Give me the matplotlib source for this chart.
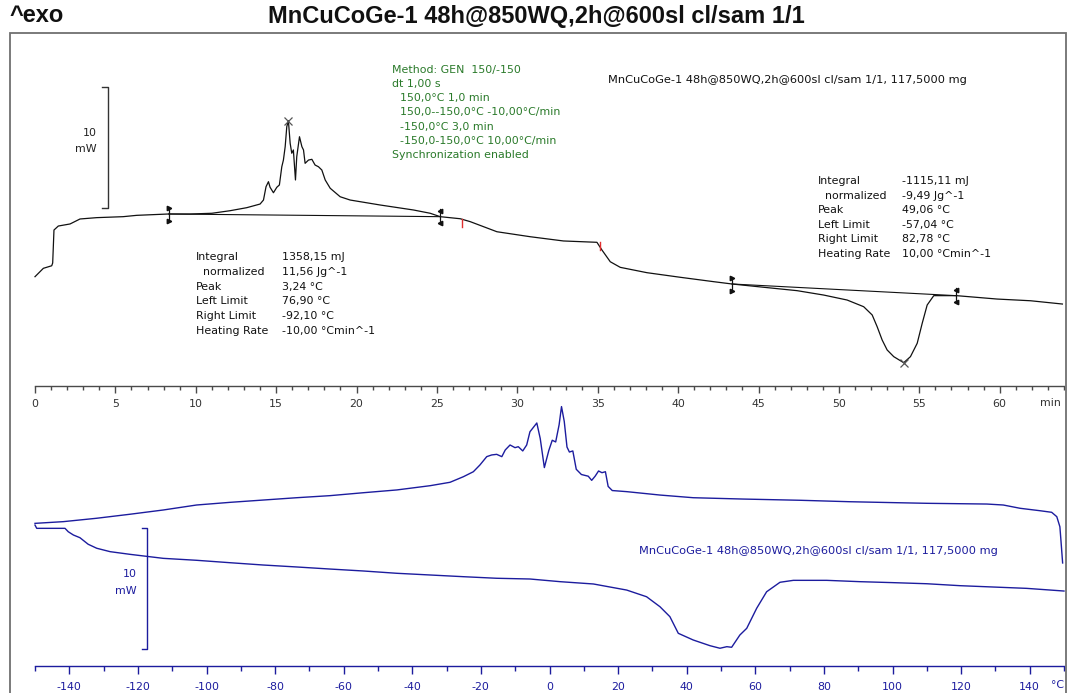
import matplotlib
matplotlib.use("Agg")
import matplotlib.pyplot as plt
from matplotlib.patches import Rectangle
from matplotlib.ticker import MultipleLocator, FixedLocator, FixedFormatter

plt.rcParams['axes.unicode_minus'] = False

# ---------------- data ----------------
title = "MnCuCoGe-1 48h@850WQ,2h@600sl cl/sam 1/1"
sample_label = "MnCuCoGe-1 48h@850WQ,2h@600sl cl/sam 1/1, 117,5000 mg"

# top panel: heat flow (mW, exo up) vs time (min)
top_t = [0.0, 0.52, 1.04, 1.10, 1.18, 1.45, 2.18, 2.80, 3.84, 5.48, 6.33, 8.29, 9.65,
         11.0, 12.13, 13.17, 14.0, 14.21, 14.37, 14.52, 14.62, 14.83, 15.04, 15.20,
         15.35, 15.45, 15.56, 15.66, 15.76, 15.87, 15.97, 16.07, 16.20, 16.28, 16.45,
         16.60, 16.70, 16.80, 17.01, 17.22, 17.42, 17.63, 17.84, 18.05, 18.36, 18.98,
         19.60, 21.47, 23.54, 24.58, 25.20, 26.45, 27.07, 28.73, 30.80, 32.87, 34.95,
         35.26, 35.78, 36.40, 38.06, 40.14, 42.21, 43.35, 45.32, 47.40, 49.05, 50.51,
         51.54, 52.07, 52.38, 52.69, 53.00, 53.41, 54.03, 54.45, 54.87, 55.18, 55.49,
         55.90, 57.31, 59.84, 61.92, 63.90]
top_hf = [-5.16, -4.47, -4.26, -4.03, -1.32, -0.99, -0.82, -0.41, -0.30, -0.22, -0.11, 0.0, 0.0,
          0.06, 0.27, 0.52, 0.82, 1.15, 2.25, 2.66, 2.20, 1.75, 2.20, 2.39,
          3.89, 4.44, 5.54, 7.19, 7.68, 5.82, 5.00, 5.27, 2.80, 4.72, 6.36,
          5.54, 5.27, 4.17, 4.44, 4.50, 4.03, 3.89, 3.62, 2.80, 2.12, 1.42,
          1.15, 0.74, 0.33, 0.06, -0.22, -0.39, -0.63, -1.46, -1.87, -2.22, -2.33,
          -2.96, -3.93, -4.39, -4.83, -5.21, -5.57, -5.76, -6.03, -6.31, -6.67, -7.08,
          -7.63, -8.31, -9.28, -10.37, -11.19, -11.74, -12.24, -11.74, -10.64, -9.00, -7.49,
          -6.72, -6.72, -7.00, -7.14, -7.41]

# integration limits (min) and baseline values (mW)
exo_limits_t = [8.31, 25.21]
exo_baseline_hf = [0.0, -0.22]
endo_limits_t = [43.35, 57.28]
endo_baseline_hf = [-5.76, -6.72]
exo_peak = (15.76, 7.68)
endo_peak = (54.03, -12.24)
segment_marks_t = [26.55, 35.16]
segment_marks_hf = [-0.74, -2.65]

# bottom panel: cooling and heating curves vs temperature (°C)
cool_T = [-150.0, -141.75, -132.0, -122.3, -112.6, -102.9, -93.1, -83.4, -73.7, -64.0,
          -54.3, -44.5, -34.8, -29.0, -25.1, -22.2, -20.3, -18.3, -16.85, -15.4, -13.9,
          -12.9, -11.5, -10.05, -9.1, -7.8, -6.65, -5.7, -3.7, -2.7, -1.5, -0.2, 0.8,
          1.8, 2.8, 3.5, 4.3, 5.1, 5.8, 6.8, 7.8, 9.3, 11.3, 12.3, 13.3, 14.3, 15.3,
          16.3, 17.1, 18.3, 22.5, 32.2, 41.9, 56.5, 73.0, 87.6, 101.2, 110.0, 127.5,
          132.3, 137.2, 143.0, 146.4, 147.9, 148.8, 149.1, 149.6]
cool_hf = [1.37, 1.51, 1.79, 2.12, 2.47, 2.88, 3.10, 3.29, 3.48, 3.65,
           3.89, 4.12, 4.47, 4.75, 5.21, 5.62, 6.17, 6.86, 7.00, 7.05, 6.86,
           7.41, 7.82, 7.60, 7.68, 7.33, 7.82, 8.91, 9.63, 8.35, 5.96, 7.37, 8.21,
           8.07, 9.48, 10.98, 9.76, 7.65, 7.24, 7.33, 5.82, 5.39, 5.25, 4.91, 5.25, 5.68, 5.54,
           5.62, 4.41, 4.07, 3.98, 3.70, 3.48, 3.37, 3.27, 3.15, 3.07, 3.02, 2.96,
           2.88, 2.61, 2.41, 2.28, 1.92, 1.09, 0.0, -1.89]

heat_T = [-150.0, -149.5, -141.25, -140.3, -138.8, -136.9, -134.5, -132.0, -128.1, -122.3,
          -112.6, -102.9, -93.1, -83.4, -73.7, -64.0, -54.3, -44.5, -34.8, -25.1, -15.4,
          -5.7, 3.1, 12.8, 22.5, 28.3, 32.2, 35.1, 37.55, 41.9, 46.8, 49.7, 51.7, 53.1,
          55.5, 57.5, 60.4, 63.3, 67.2, 71.1, 80.8, 90.5, 100.2, 110.0, 119.7, 129.4,
          139.1, 150.0]
heat_hf = [1.23, 0.96, 0.96, 0.68, 0.41, 0.19, -0.35, -0.68, -0.96, -1.18,
           -1.51, -1.67, -1.87, -2.06, -2.22, -2.39, -2.55, -2.74, -2.88, -3.02, -3.15,
           -3.21, -3.43, -3.62, -4.12, -4.67, -5.49, -6.31, -7.68, -8.23, -8.70, -8.91, -8.78, -8.83,
           -7.82, -7.27, -5.62, -4.26, -3.48, -3.32, -3.32, -3.43, -3.51, -3.60, -3.76, -3.87,
           -3.98, -4.20]

time_ticks = list(range(0, 61, 5))
temp_ticks = list(range(-140, 141, 20))

method_lines = ["Method: GEN  150/-150", "dt 1,00 s", "150,0\u00b0C 1,0 min",
                "150,0--150,0\u00b0C -10,00\u00b0C/min", "-150,0\u00b0C 3,0 min",
                "-150,0-150,0\u00b0C 10,00\u00b0C/min", "Synchronization enabled"]
method_indent = [False, False, True, True, True, True, False]

exo_labels = ["Integral", "  normalized", "Peak", "Left Limit", "Right Limit", "Heating Rate"]
exo_values = ["1358,15 mJ", "11,56 Jg^-1", "3,24 \u00b0C", "76,90 \u00b0C", "-92,10 \u00b0C",
              "-10,00 \u00b0Cmin^-1"]
endo_values = ["-1115,11 mJ", "-9,49 Jg^-1", "49,06 \u00b0C", "-57,04 \u00b0C", "82,78 \u00b0C",
               "10,00 \u00b0Cmin^-1"]

# ---------------- layout ----------------
W, H = 1067, 693
fig = plt.figure(figsize=(W / 100, H / 100), dpi=100)
fig.patch.set_facecolor('white')

def fx(p):
    return p / W

def fy(p):
    return 1 - p / H

BLACK = '#111111'
BLUE = '#1c1c9e'
GREEN = '#2a7a2a'
GRAY = '#4a4a4a'
FONT = 'DejaVu Sans'
FS = 7.9

X0, X1 = 35, 1064
AX1_TOP, AX1_BOT = 33, 385.5
AX2_TOP, AX2_BOT = 385.5, 666
PX_PER_MW = 12.15

ax1 = fig.add_axes([fx(X0), fy(AX1_BOT), (X1 - X0) / W, (AX1_BOT - AX1_TOP) / H])
ax2 = fig.add_axes([fx(X0), fy(AX2_BOT), (X1 - X0) / W, (AX2_BOT - AX2_TOP) / H])
for ax in (ax1, ax2):
    ax.patch.set_alpha(0)
    for s in ('top', 'left', 'right'):
        ax.spines[s].set_visible(False)
    ax.set_yticks([])

ax1.set_xlim(0, 64)
ax1.set_ylim(-(AX1_BOT - 214) / PX_PER_MW, (214 - AX1_TOP) / PX_PER_MW)
ax2.set_xlim(-150, 150)
ax2.set_ylim(-(AX2_BOT - 540) / PX_PER_MW, (540 - AX2_TOP) / PX_PER_MW)

# top axis (time)
ax1.spines['bottom'].set_color(GRAY)
ax1.spines['bottom'].set_linewidth(1.0)
ax1.xaxis.set_major_locator(FixedLocator(time_ticks))
ax1.xaxis.set_major_formatter(FixedFormatter([str(v) for v in time_ticks]))
ax1.xaxis.set_minor_locator(MultipleLocator(1))
ax1.tick_params(axis='x', which='major', direction='out', length=5, width=1, color=GRAY,
                labelsize=FS, labelcolor='#333333', pad=4.5)
ax1.tick_params(axis='x', which='minor', direction='out', length=3, width=1, color=GRAY)
for lab in ax1.get_xticklabels():
    lab.set_family(FONT)
ax1.annotate('min', xy=(1, 0), xycoords='axes fraction', xytext=(-10, -17.5 * 0.72),
             textcoords='offset points', ha='center', va='center', fontsize=FS,
             color='#333333', family=FONT)

# bottom axis (temperature)
ax2.spines['bottom'].set_color(BLUE)
ax2.spines['bottom'].set_linewidth(1.0)
ax2.xaxis.set_major_locator(FixedLocator(temp_ticks))
ax2.xaxis.set_major_formatter(FixedFormatter([str(v) for v in temp_ticks]))
ax2.xaxis.set_minor_locator(MultipleLocator(10))
ax2.tick_params(axis='x', which='major', direction='out', length=6, width=1, color=BLUE,
                labelsize=FS, labelcolor=BLUE, pad=5.5)
ax2.tick_params(axis='x', which='minor', direction='out', length=3.5, width=1, color=BLUE)
for lab in ax2.get_xticklabels():
    lab.set_family(FONT)
ax2.annotate('\u00b0C', xy=(1, 0), xycoords='axes fraction', xytext=(-5, -19.5 * 0.72),
             textcoords='offset points', ha='center', va='center', fontsize=FS,
             color=BLUE, family=FONT)

# ---------------- curves ----------------
ax1.plot(top_t, top_hf, color=BLACK, lw=0.9, solid_joinstyle='round', clip_on=False)
ax1.plot(exo_limits_t, exo_baseline_hf, color=BLACK, lw=0.8)
ax1.plot(endo_limits_t, endo_baseline_hf, color=BLACK, lw=0.8)

for tl, hb, mk in [(exo_limits_t[0], exo_baseline_hf[0], '>'), (exo_limits_t[1], exo_baseline_hf[1], '<'),
                   (endo_limits_t[0], endo_baseline_hf[0], '>'), (endo_limits_t[1], endo_baseline_hf[1], '<')]:
    ax1.plot([tl, tl], [hb + 0.6, hb - 0.6], color=BLACK, lw=0.9)
    ax1.plot([tl, tl], [hb + 0.5, hb - 0.55], linestyle='none', marker=mk, ms=3.2,
             color=BLACK)

ax1.plot(*exo_peak, marker='x', ms=6, color='#555555', mew=0.9)
ax1.plot(*endo_peak, marker='x', ms=6, color='#555555', mew=0.9)
for tm, hm in zip(segment_marks_t, segment_marks_hf):
    ax1.plot([tm, tm], [hm + 0.35, hm - 0.35], color='#e03030', lw=1.0)

ax2.plot(cool_T, cool_hf, color=BLUE, lw=1.0, clip_on=False)
ax2.plot(heat_T, heat_hf, color=BLUE, lw=1.0, clip_on=False)

# scale bars (10 mW)
bar_top_t = 4.56
ax1.plot([bar_top_t - 0.4, bar_top_t, bar_top_t, bar_top_t - 0.4],
         [10.47, 10.47, 0.47, 0.47], color='#333333', lw=1.0)
bar_bot_T = -117.4
ax2.plot([bar_bot_T - 1.5, bar_bot_T, bar_bot_T, bar_bot_T - 1.5],
         [1.01, 1.01, -8.99, -8.99], color=BLUE, lw=1.0)

# ---------------- texts ----------------
fig.text(fx(9), fy(16), '^exo', ha='left', va='center', fontsize=17,
         family='Liberation Sans', fontweight='bold', color='#111111')
fig.text(fx(536), fy(16), title, ha='center', va='center', fontsize=17,
         family='Liberation Sans', fontweight='bold', color='#111111')

fig.add_artist(Rectangle((fx(10), -0.1), (1066 - 10) / W, fy(33) + 0.1,
                         transform=fig.transFigure, fill=False, ec='#707070', lw=1.3))

fig.text(fx(97), fy(133), '10', ha='right', va='center', fontsize=FS, family=FONT, color='#222222')
fig.text(fx(97), fy(149), 'mW', ha='right', va='center', fontsize=FS, family=FONT, color='#222222')
fig.text(fx(137), fy(574), '10', ha='right', va='center', fontsize=FS, family=FONT, color=BLUE)
fig.text(fx(137), fy(591), 'mW', ha='right', va='center', fontsize=FS, family=FONT, color=BLUE)

for i, (line, ind) in enumerate(zip(method_lines, method_indent)):
    fig.text(fx(400.5 if ind else 391.5), fy(69.7 + i * 14.25), line, ha='left', va='center',
             fontsize=FS, family=FONT, color=GREEN)

fig.text(fx(608), fy(80), sample_label, ha='left', va='center', fontsize=8.2, family=FONT,
         color='#111111')
fig.text(fx(639), fy(551), sample_label, ha='left', va='center', fontsize=8.2, family=FONT,
         color=BLUE)

for i, (lab, val) in enumerate(zip(exo_labels, exo_values)):
    fig.text(fx(196), fy(257.5 + i * 14.6), lab, ha='left', va='center', fontsize=FS,
             family=FONT, color='#111111')
    fig.text(fx(281.5), fy(257.5 + i * 14.6), val, ha='left', va='center', fontsize=FS,
             family=FONT, color='#111111')
for i, (lab, val) in enumerate(zip(exo_labels, endo_values)):
    fig.text(fx(818), fy(181 + i * 14.6), lab, ha='left', va='center', fontsize=FS,
             family=FONT, color='#111111')
    fig.text(fx(902), fy(181 + i * 14.6), val, ha='left', va='center', fontsize=FS,
             family=FONT, color='#111111')

fig.savefig('out.png', dpi=100)
